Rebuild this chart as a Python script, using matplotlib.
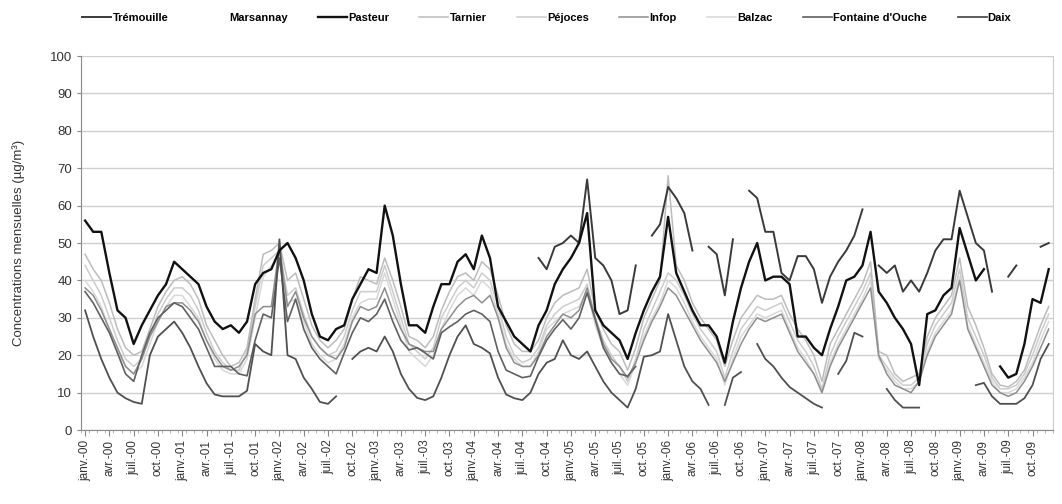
import numpy as np
import matplotlib
matplotlib.use("Agg")
import matplotlib.pyplot as plt
from matplotlib.ticker import MultipleLocator

nan = np.nan

months = ["janv.", "avr.", "juil.", "oct."]
years = ["00", "01", "02", "03", "04", "05", "06", "07", "08", "09"]

# concentrations mensuelles, une ligne par année (janv. -> déc.)
tremouille = [
    nan, nan, nan, nan, nan, nan, nan, nan, nan, nan, nan, nan,
    nan, nan, nan, nan, nan, nan, nan, nan, nan, nan, nan, nan,
    nan, nan, nan, nan, nan, nan, nan, nan, nan, nan, nan, nan,
    nan, nan, nan, nan, nan, nan, nan, nan, nan, nan, nan, nan,
    nan, nan, nan, nan, nan, nan, nan, nan, 46, 43, 49, 50,
    52, 50, 67, 46, 44, 40, 31, 32, 44, nan, 52, 55,
    65, 62, 58, 48, nan, 49, 47, 36, 51, nan, 64, 62,
    53, 53, 42, 40, 46.5, 46.5, 43, 34, 41, 45, 48, 52,
    59, nan, 44, 42, 44, 37, 40, 37, 42, 48, 51, 51,
    64, 57, 50, 48, 37, nan, 41, 44, nan, nan, 49, 50,
]
marsannay = [nan] * 120
pasteur = [
    56, 53, 53, 42, 32, 30, 23, 28, 32, 36, 39, 45,
    43, 41, 39, 33, 29, 27, 28, 26, 29, 39, 42, 43,
    48, 50, 46, 40, 31, 25, 24, 27, 28, 35, 39, 43,
    42, 60, 52, 39, 28, 28, 26, 33, 39, 39, 45, 47,
    43, 52, 46, 33, 29, 25, 23, 21, 28, 32, 39, 43,
    46, 50, 58, 32, 28, 26, 24, 19, 26, 32, 37, 41,
    57, 42, 37, 32, 28, 28, 25, 18, 29, 38, 45, 50,
    40, 41, 41, 39, 25, 25, 22, 20, 27, 33, 40, 41,
    44, 53, 37, 34, 30, 27, 23, 12, 31, 32, 36, 38,
    54, 47, 40, 43, nan, 17, 14, 15, 23, 35, 34, 43,
]
tarnier = [
    47, 43, 40, 34, 27, 22, 20, 21, 27, 33, 37, 40,
    41, 39, 35, 28, 24, 20, 17, 18, 22, 35, 47, 48,
    50, 40, 42, 35, 28, 24, 22, 24, 27, 35, 41, 40,
    39, 46, 40, 33, 25, 24, 22, 25, 32, 37, 41, 42,
    40, 45, 43, 36, 28, 23, 21, 21, 24, 30, 34, 36,
    37, 38, 43, 32, 27, 23, 21, 16, 22, 30, 35, 40,
    68, 44, 40, 34, 30, 27, 24, 17, 24, 30, 33, 36,
    35, 35, 36, 31, 27, 24, 20, 13, 23, 27, 31, 35,
    39, 45, 21, 20, 15, 13, 14, 15, 25, 30, 33, 36,
    46, 33, 28, 22, 15, 12, 11.5, 13, 16, 22, 28, 33,
]
pejoces = [
    44, 40, 36, 30, 24, 19, 17, 19, 25, 31, 35, 38,
    38, 36, 32, 26, 21, 18, 16, 16, 21, 33, 44, 46,
    48, 36, 38, 31, 25, 22, 20, 21, 25, 32, 37, 37,
    37, 44, 37, 30, 23, 21, 19, 22, 30, 34, 38, 40,
    38, 42, 40, 33, 25, 20, 18, 19, 22, 28, 31, 33,
    34, 35, 39, 30, 24, 20, 17, 13, 19, 27, 32, 37,
    42, 40, 36, 31, 27, 24, 21, 14, 21, 27, 30, 33,
    32, 33, 34, 29, 24, 21, 17, 11, 20, 25, 29, 33,
    37, 42, 20, 17, 14, 12, 12, 14, 23, 28, 31, 34,
    43, 30, 25, 20, 14, 11, 11, 12, 15, 20, 26, 31,
]
infop = [
    38, 36, 32, 27, 22, 17, 15, 19, 25, 29, 33, 34,
    34, 32, 29, 24, 20, 17, 16, 17, 20, 31, 33, 33,
    49, 33, 37, 30, 25, 22, 20, 19, 22, 29, 33, 32,
    33, 38, 32, 27, 23, 22, 21, 21, 27, 30, 33, 35,
    36, 34, 36, 30, 22, 18, 17, 17, 20, 25, 28, 31,
    30, 32, 38, 30, 23, 19, 17, 14, 18, 24, 29, 33,
    38, 36, 32, 28, 24, 21, 18, 13, 18, 23, 27, 30,
    29, 30, 31, 26, 21, 18, 15, 10, 17, 22, 26, 30,
    34, 38, 20, 15, 12, 11, 10, 13, 20, 25, 28, 31,
    40, 27, 22, 17, 12, 10, 9, 10, 13, 17, 22, 27,
]
balzac = [
    40, 37, 33, 27, 21, 17, 15, 17, 23, 29, 33, 36,
    36, 33, 30, 24, 19, 16, 15, 15, 19, 30, 41, 44,
    46, 34, 35, 29, 23, 20, 18, 19, 23, 30, 34, 35,
    35, 42, 35, 28, 21, 19, 17, 20, 27, 32, 36, 38,
    36, 40, 38, 31, 23, 19, 17, 17, 21, 27, 29, 31,
    32, 33, 37, 28, 22, 18, 15, 12, 18, 25, 30, 34,
    40, 38, 34, 29, 25, 22, 19, 12, 19, 25, 28, 31,
    30, 31, 32, 27, 22, 19, 15, 10, 18, 23, 27, 31,
    35, 40, 19, 16, 13, 11, 11, 13, 21, 26, 29, 32,
    41, 28, 23, 18, 13, 10, 10, 11, 14, 18, 24, 29,
]
fontaine = [
    37, 34, 30, 26, 20.6, 15, 13, 20, 26, 30, 32, 34,
    33, 30, 27, 22, 17, 17, 17, 15, 14.5, 24, 31, 30,
    46, 29, 35, 27, 22, 19, 17, 15, 20.6, 26, 30, 29,
    31, 35, 29, 24, 21.4, 22, 20.6, 19, 26, 27.6, 29, 31,
    32, 31, 29, 21, 16, 15, 14, 14.4, 19.6, 24, 27, 29.5,
    27, 30, 36.7, 29.5, 22, 18, 15, 14.4, 17, nan, nan, nan,
    nan, nan, nan, nan, nan, nan, nan, nan, nan, nan, nan, nan,
    nan, nan, nan, nan, nan, nan, nan, nan, nan, nan, nan, nan,
    nan, nan, nan, nan, nan, nan, nan, nan, nan, nan, nan, nan,
    nan, nan, nan, nan, nan, nan, nan, nan, nan, nan, nan, nan,
]
daix = [
    32, 25, 19, 14, 10, 8.5, 7.5, 7, 20, 25, 27, 29,
    26, 22, 17, 12.5, 9.5, 9, 9, 9, 10.5, 23, 21, 20,
    51, 20, 19, 14, 11, 7.5, 7, 9, nan, 19, 21, 22,
    21, 25, 21, 15, 11, 8.6, 8, 9, 14, 20, 25, 28,
    23, 22, 20.5, 14, 9.5, 8.5, 8, 10, 15, 18, 19, 24,
    20, 19, 21, 17, 13, 10, 8, 6, 11, 19.6, 20, 21,
    31, 24, 17, 13, 11, 6.7, nan, 6.7, 14, 15.5, nan, 23,
    19, 17, 14, 11.5, 10, 8.5, 7, 6, nan, 15, 18.5, 26,
    25, nan, nan, 11, 8, 6, 6, 6, nan, nan, nan, nan,
    nan, nan, 12, 12.6, 9, 7, 7, 7, 8.5, 12, 19, 23,
]

stations = [
    ("Trémouille", tremouille, "#3a3a3a", 1.4),
    ("Marsannay", marsannay, "white", 1.2),
    ("Pasteur", pasteur, "#111111", 1.7),
    ("Tarnier", tarnier, "#bcbcbc", 1.1),
    ("Péjoces", pejoces, "#cccccc", 1.1),
    ("Infop", infop, "#8e8e8e", 1.1),
    ("Balzac", balzac, "#d8d8d8", 1.1),
    ("Fontaine d'Ouche", fontaine, "#606060", 1.2),
    ("Daix", daix, "#505050", 1.3),
]

plt.rcParams["font.family"] = ["Liberation Sans", "DejaVu Sans"]

fig = plt.figure(figsize=(10.62, 5.04), dpi=100)
ax = fig.add_axes([0.0763, 0.1468, 0.915, 0.742])

x = np.arange(120)
# tracer d'abord les stations claires pour que les sombres restent au-dessus
order = [6, 4, 3, 5, 1, 7, 8, 0, 2]
lines = {}
for k in order:
    name, vals, col, lw = stations[k]
    (ln,) = ax.plot(x, vals, color=col, lw=lw, label=name)
    lines[k] = ln

ax.set_xlim(-0.5, 119.5)
ax.set_ylim(0, 100)
ax.yaxis.set_major_locator(MultipleLocator(10))
ax.grid(axis="y", color="#cfcfcf", lw=1.0)
ax.set_axisbelow(True)

labels = [f"{m}-{y}" for y in years for m in months]
ax.set_xticks(np.arange(0, 120, 3))
ax.set_xticklabels(labels, rotation=90, fontsize=8.5, color="#333333")
ax.set_xticks(np.arange(-0.5, 120, 1), minor=True)
ax.tick_params(axis="x", which="major", length=4, color="#888888", pad=3)
ax.tick_params(axis="x", which="minor", length=2, color="#aaaaaa")
ax.tick_params(axis="y", length=3, color="#888888", labelsize=9.5,
               labelcolor="#333333")

ax.set_ylabel("Concentrations mensuelles (µg/m³)", fontsize=9.5,
              color="#333333", labelpad=18)

ax.spines["top"].set_visible(False)
ax.spines["left"].set_color("#888888")
ax.spines["bottom"].set_color("#888888")
ax.spines["right"].set_color("#cccccc")

handles = [lines[k] for k in range(len(stations))]
fig.legend(handles, [s[0] for s in stations], loc="upper center",
           bbox_to_anchor=(0.515, 0.995), ncol=9, frameon=False,
           handlelength=2.6, columnspacing=2.75, handletextpad=0.1,
           prop={"weight": "bold", "size": 8})

fig.savefig("out.png", dpi=100, facecolor="white")
